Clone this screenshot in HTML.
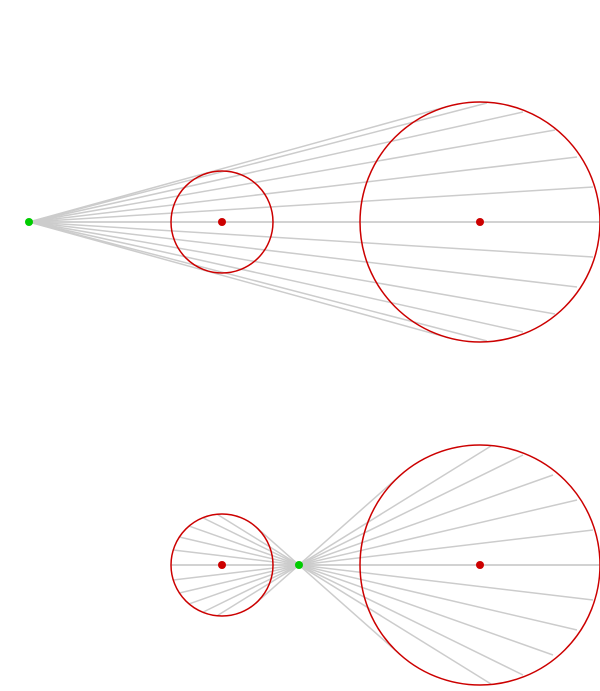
<!DOCTYPE html>
<html><head><style>html,body{margin:0;padding:0;background:#fff}</style></head>
<body>
<svg id="s" width="600" height="686" xmlns="http://www.w3.org/2000/svg"></svg>
<script>
const s=document.getElementById('s');
function el(t,a){const e=document.createElementNS('http://www.w3.org/2000/svg',t);for(const k in a)e.setAttribute(k,a[k]);s.appendChild(e);return e;}
const R=120,r=51;
// top
const g1=[29,222], bc1=[480,222], sc1=[222,222];
const ends=[[600,222],[593,187],[577,157],[555,130],[523,112],[487,103]];
function farHit(p,d,c,rad){ // ray p + t d, largest t
  const fx=p[0]-c[0],fy=p[1]-c[1];const a=d[0]*d[0]+d[1]*d[1],b=2*(fx*d[0]+fy*d[1]),cc=fx*fx+fy*fy-rad*rad;
  const disc=b*b-4*a*cc; if(disc<0)return null; const t=(-b+Math.sqrt(Math.max(0,disc)))/(2*a); return [p[0]+t*d[0],p[1]+t*d[1]];}
function tangentPt(p,c,rad,sign){const dx=c[0]-p[0],dy=c[1]-p[1],D=Math.hypot(dx,dy);const ang=Math.atan2(dy,dx)+sign*Math.asin(rad/D);const L=Math.sqrt(D*D-rad*rad);return [p[0]+L*Math.cos(ang),p[1]+L*Math.sin(ang)];}
const L={stroke:'#cccccc','stroke-width':1.5,fill:'none'};
ends.forEach(e=>{[1,-1].forEach(sg=>{const y=222+sg*(e[1]-222);el('line',Object.assign({x1:g1[0],y1:g1[1],x2:e[0],y2:y},L));});});
[1,-1].forEach(sg=>{const t=tangentPt(g1,bc1,R,sg);el('line',Object.assign({x1:g1[0],y1:g1[1],x2:t[0],y2:t[1]},L));});
// bottom
const g2=[299,565], bc2=[480,565], sc2=[222,565];
const ends2=[[600,565],[593,530],[577,500],[553,475],[523,455],[491,446]];
ends2.forEach(e=>{[1,-1].forEach(sg=>{const y=565+sg*(e[1]-565);const d=[g2[0]-e[0],g2[1]-y];const h=farHit(g2,d,sc2,r);el('line',Object.assign({x1:e[0],y1:y,x2:h[0],y2:h[1]},L));});});
[1,-1].forEach(sg=>{const t=tangentPt(g2,bc2,R,sg);const t2=tangentPt(g2,sc2,r,sg);el('line',Object.assign({x1:t[0],y1:t[1],x2:t2[0],y2:t2[1]},L));});
// circles
[[sc1,r],[bc1,R],[sc2,r],[bc2,R]].forEach(([c,rad])=>el('circle',{cx:c[0],cy:c[1],r:rad,fill:'none',stroke:'#cc0000','stroke-width':1.5}));
[sc1,bc1,sc2,bc2].forEach(c=>el('circle',{cx:c[0],cy:c[1],r:4,fill:'#cc0000'}));
[g1,g2].forEach(c=>el('circle',{cx:c[0],cy:c[1],r:4,fill:'#00cc00'}));
</script>
</body></html>
